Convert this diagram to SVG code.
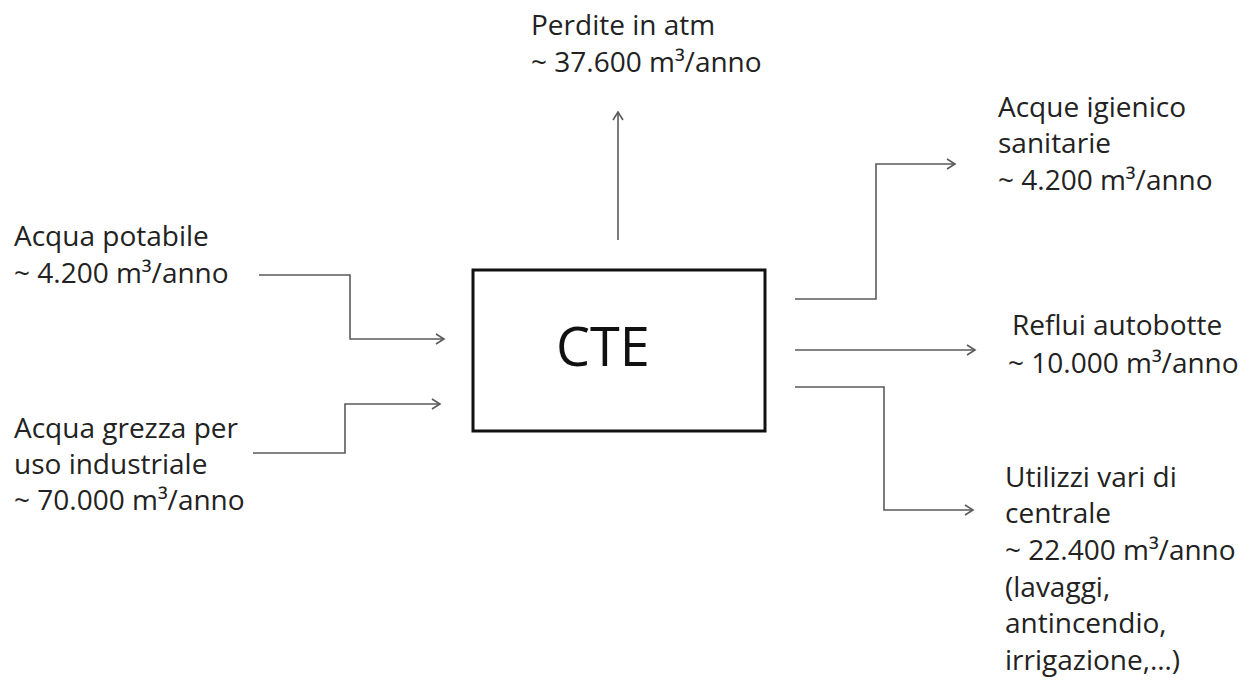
<svg xmlns="http://www.w3.org/2000/svg" width="1258" height="689" viewBox="0 0 1258 689">
<style>
.lbl{font-family:"Open Sans","Noto Sans","DejaVu Sans",sans-serif;font-size:28px;fill:#222}
.title{font-family:"Open Sans","Noto Sans","DejaVu Sans",sans-serif;font-size:54px;fill:#111;text-anchor:middle}
.conn{fill:none;stroke:#5a5a5a;stroke-width:1.6;marker-end:url(#arr)}
.box{fill:#fff;stroke:#111;stroke-width:3}
</style>
<defs>
<marker id="arr" markerUnits="userSpaceOnUse" markerWidth="14" markerHeight="14" viewBox="0 0 14 14" refX="12" refY="7" orient="auto">
<path d="M4,2 L12,7 L4,12" fill="none" stroke="#5a5a5a" stroke-width="1.6"/>
</marker>
</defs>
<rect width="1258" height="689" fill="#fff"/>
<g id="connectors">
<path class="conn" d="M259,275 H350 V339 H444"/>
<path class="conn" d="M253,453 H345 V404 H440"/>
<path class="conn" d="M618,240 V112"/>
<path class="conn" d="M795,299 H876 V164 H955"/>
<path class="conn" d="M795,350 H975"/>
<path class="conn" d="M795,387 H884 V510 H973"/>
</g>
<g id="node-cte">
<rect class="box" x="473" y="270" width="292" height="161"/>
<text class="title" x="603" y="366">CTE</text>
</g>
<g id="node-acqua-potabile">
<text class="lbl" x="14" y="246">Acqua potabile</text>
<text class="lbl" x="14" y="283">~ 4.200 m³/anno</text>
</g>
<g id="node-acqua-grezza">
<text class="lbl" x="14" y="438">Acqua grezza per</text>
<text class="lbl" x="14" y="474">uso industriale</text>
<text class="lbl" x="14" y="510">~ 70.000 m³/anno</text>
</g>
<g id="node-perdite">
<text class="lbl" x="531" y="35">Perdite in atm</text>
<text class="lbl" x="531" y="72">~ 37.600 m³/anno</text>
</g>
<g id="node-acque-igienico">
<text class="lbl" x="998" y="117">Acque igienico</text>
<text class="lbl" x="998" y="153">sanitarie</text>
<text class="lbl" x="998" y="190">~ 4.200 m³/anno</text>
</g>
<g id="node-reflui">
<text class="lbl" x="1012" y="335">Reflui autobotte</text>
<text class="lbl" x="1008" y="373">~ 10.000 m³/anno</text>
</g>
<g id="node-utilizzi">
<text class="lbl" x="1005" y="487">Utilizzi vari di</text>
<text class="lbl" x="1005" y="523">centrale</text>
<text class="lbl" x="1005" y="560">~ 22.400 m³/anno</text>
<text class="lbl" x="1005" y="597">(lavaggi,</text>
<text class="lbl" x="1005" y="633">antincendio,</text>
<text class="lbl" x="1005" y="670">irrigazione,…)</text>
</g>
</svg>
